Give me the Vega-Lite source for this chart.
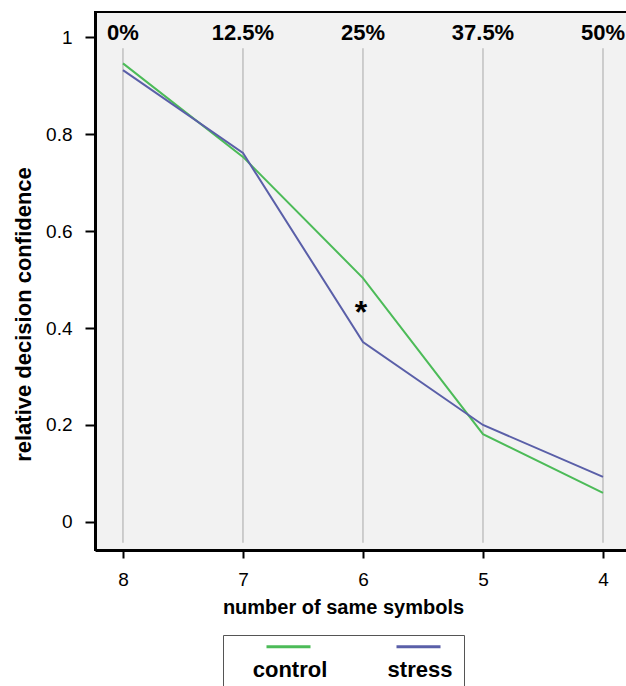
{
  "$schema": "https://vega.github.io/schema/vega-lite/v6.json",
  "width": 535,
  "height": 538,
  "autosize": "none",
  "padding": {"left": 95, "top": 12, "right": 0, "bottom": 136},
  "background": "white",
  "config": {
    "view": {"fill": "#f2f2f2", "stroke": "black", "strokeWidth": 2},
    "font": "Liberation Sans"
  },
  "datasets": {
    "series": [
      {"n": 8, "group": "control", "conf": 0.946},
      {"n": 7, "group": "control", "conf": 0.753},
      {"n": 6, "group": "control", "conf": 0.503},
      {"n": 5, "group": "control", "conf": 0.181},
      {"n": 4, "group": "control", "conf": 0.06},
      {"n": 8, "group": "stress", "conf": 0.932},
      {"n": 7, "group": "stress", "conf": 0.761},
      {"n": 6, "group": "stress", "conf": 0.371},
      {"n": 5, "group": "stress", "conf": 0.2},
      {"n": 4, "group": "stress", "conf": 0.093}
    ],
    "pct": [
      {"n": 8, "pct": "0%"},
      {"n": 7, "pct": "12.5%"},
      {"n": 6, "pct": "25%"},
      {"n": 5, "pct": "37.5%"},
      {"n": 4, "pct": "50%"}
    ],
    "star": [{"n": 6, "conf": 0.43, "sig": "*"}]
  },
  "encoding": {
    "x": {
      "field": "n",
      "type": "quantitative",
      "scale": {"domain": [3.775, 8.233], "reverse": true, "nice": false, "zero": false},
      "axis": {
        "values": [8, 7, 6, 5, 4],
        "grid": false,
        "tickSize": 8,
        "tickWidth": 2,
        "tickColor": "black",
        "domainColor": "black",
        "domainWidth": 3,
        "labelFontSize": 19,
        "labelColor": "black",
        "labelPadding": 12,
        "title": "number of same symbols",
        "titleFontSize": 20,
        "titleFontWeight": "bold",
        "titleColor": "black",
        "titlePadding": 8,
        "titleX": 248
      }
    }
  },
  "layer": [
    {
      "data": {"name": "pct"},
      "mark": {"type": "rule", "color": "#b4b4b4", "strokeWidth": 1.2},
      "encoding": {
        "y": {"datum": 0.977, "type": "quantitative"},
        "y2": {"datum": -0.043}
      }
    },
    {
      "data": {"name": "series"},
      "mark": {"type": "line", "strokeWidth": 2},
      "encoding": {
        "y": {
          "field": "conf",
          "type": "quantitative",
          "scale": {"domain": [-0.058, 1.052], "nice": false, "zero": false},
          "axis": {
            "values": [0, 0.2, 0.4, 0.6, 0.8, 1],
            "format": "~g",
            "grid": false,
            "tickSize": 10,
            "tickWidth": 2,
            "tickColor": "black",
            "domainColor": "black",
            "domainWidth": 3,
            "labelFontSize": 19,
            "labelColor": "black",
            "labelPadding": 13,
            "title": "relative decision confidence",
            "titleFontSize": 22,
            "titleFontWeight": "bold",
            "titleColor": "black",
            "titleX": -72,
            "titleY": 302,
            "titleBaseline": "middle"
          }
        },
        "color": {
          "field": "group",
          "type": "nominal",
          "scale": {"domain": ["control", "stress"], "range": ["#4cbb58", "#5a5fa8"]},
          "legend": {
            "title": null,
            "orient": "none",
            "legendX": 128,
            "legendY": 623,
            "direction": "horizontal",
            "symbolType": "M-1,-1.05L1,-1.05",
            "symbolStrokeWidth": 3,
            "symbolSize": 1936,
            "labelFontSize": 22,
            "labelFontWeight": "bold",
            "labelColor": "black",
            "labelAlign": "center",
            "labelBaseline": "middle",
            "labelOffset": -22,
            "columnPadding": 36,
            "symbolOffset": 31,
            "strokeColor": "#555555",
            "fillColor": "white",
            "padding": 11
          }
        }
      }
    },
    {
      "data": {"name": "pct"},
      "mark": {"type": "text", "fontSize": 22, "fontWeight": "bold", "color": "black", "baseline": "middle", "dx": 0},
      "encoding": {
        "y": {"datum": 1.008, "type": "quantitative"},
        "text": {"field": "pct"}
      }
    },
    {
      "data": {"name": "star"},
      "mark": {"type": "text", "fontSize": 32, "fontWeight": "bold", "color": "black", "baseline": "middle", "dx": -2},
      "encoding": {
        "y": {"field": "conf", "type": "quantitative"},
        "text": {"field": "sig"}
      }
    }
  ]
}
